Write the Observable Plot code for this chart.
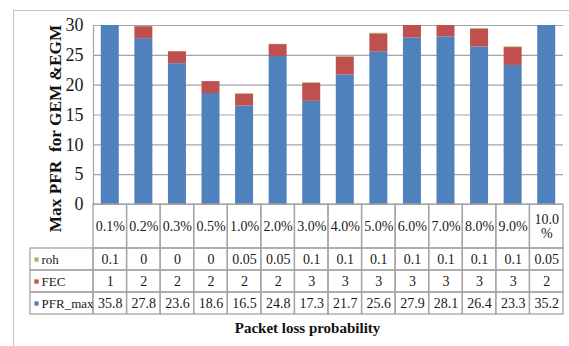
<!DOCTYPE html>
<html>
<head>
<meta charset="utf-8">
<script src="https://cdn.jsdelivr.net/npm/d3@7"></script>
<script src="https://cdn.jsdelivr.net/npm/@observablehq/plot@0.6"></script>
<style>
html, body { margin: 0; padding: 0; background: #fff; overflow: hidden; }
#wrap { position: relative; width: 569px; height: 346px; overflow: hidden; }
#wrap svg { position: absolute; left: 0; top: 0; }
#frame { position: absolute; left: 13px; top: 10px; width: 700px; height: 500px; border: 1px solid #c4c4c4; box-sizing: border-box; }
</style>
</head>
<body>
<div id="wrap"><div id="frame"></div></div>
<script>
// ---- data ----
const categories = ["0.1%", "0.2%", "0.3%", "0.5%", "1.0%", "2.0%", "3.0%", "4.0%", "5.0%", "6.0%", "7.0%", "8.0%", "9.0%", "10.0%"];
const pfrMax = [35.8, 27.8, 23.6, 18.6, 16.5, 24.8, 17.3, 21.7, 25.6, 27.9, 28.1, 26.4, 23.3, 35.2];
const fec = [1, 2, 2, 2, 2, 2, 3, 3, 3, 3, 3, 3, 3, 2];
const roh = [0.1, 0, 0, 0, 0.05, 0.05, 0.1, 0.1, 0.1, 0.1, 0.1, 0.1, 0.1, 0.05];
const seriesNames = ["PFR_max", "FEC", "roh"];
const seriesColors = ["#4F81BD", "#C0504D", "#9BBB59"];
const yTicks = [0, 5, 10, 15, 20, 25, 30];
const yLabel = "Max PFR  for GEM &EGM";
const xLabel = "Packet loss probability";

// ---- layout ----
const W = 569, H = 346;
const ML = 93, MR = 6, MT = 25, MB = 142;
const n = categories.length;
const step = (W - ML - MR) / n;
const barInset = (step - 18) / 2;
const legendCols = (ML - 30) / step;
const yMax = 30;
const plotH = H - MT - MB;
// y-label centre in pixels, converted through the scales' geometry
const yLabelX = (55 - ML) / step;
const yLabelY = yMax * (H - MB - 128) / plotH;
const font = "'Liberation Serif', 'Times New Roman', serif";
const textColor = "#1a1a1a";
const lineColor = "#a4a4a4";

const seriesValues = {PFR_max: pfrMax, FEC: fec, roh: roh};

// long table for stacked bars (bottom to top: PFR_max, FEC, roh)
const stacked = [];
categories.forEach((c, i) => {
  seriesNames.forEach((s) => stacked.push({index: i, category: c, series: s, value: seriesValues[s][i]}));
});

// ---- chart ----
const chart = Plot.plot({
  width: W,
  height: H,
  marginLeft: ML,
  marginRight: MR,
  marginTop: MT,
  marginBottom: MB,
  style: {fontFamily: font, fontSize: "18px", background: "transparent", color: textColor},
  x: {domain: [0, n], axis: null},
  y: {domain: [0, yMax], ticks: 6, tickSize: 0, tickPadding: 10, label: null},
  color: {domain: seriesNames, range: seriesColors},
  marks: [
    Plot.ruleY(yTicks, {stroke: lineColor, strokeWidth: 1.2}),
    Plot.ruleX([0], {stroke: lineColor, strokeWidth: 1.2}),
    Plot.rectY(stacked, {
      x1: "index",
      x2: (d) => d.index + 1,
      y: "value",
      fill: "series",
      insetLeft: barInset,
      insetRight: barInset,
      clip: true
    }),
    Plot.text([yLabel], {
      x: yLabelX,
      y: yLabelY,
      textAnchor: "middle",
      lineAnchor: "middle",
      rotate: -90,
      text: (d) => d,
      fontSize: 17.3,
      fontWeight: "bold",
      fill: "#111"
    })
  ]
});

// ---- data table ----
const fmtCat = (c) => (c.length > 4 ? c.slice(0, -1) + "\n%" : c);
const rowDefs = [
  {key: "header", span: 2},
  {key: "roh", span: 1},
  {key: "FEC", span: 1},
  {key: "PFR_max", span: 1}
];
let acc = 0;
rowDefs.forEach((r) => { r.y1 = acc; acc += r.span; r.y2 = acc; });

const cells = [];
categories.forEach((c, i) => {
  rowDefs.forEach((r) => {
    cells.push({
      x1: i, x2: i + 1, y1: r.y1, y2: r.y2,
      text: r.key === "header" ? fmtCat(c) : String(seriesValues[r.key][i])
    });
  });
});
const legendRows = rowDefs.filter((r) => r.key !== "header").map((r) => ({
  x1: -legendCols, x2: 0, y1: r.y1, y2: r.y2, label: r.key,
  color: seriesColors[seriesNames.indexOf(r.key)]
}));

const table = Plot.plot({
  width: W,
  height: H,
  marginLeft: ML,
  marginRight: MR,
  marginTop: H - MB,
  marginBottom: 32,
  style: {fontFamily: font, fontSize: "14px", background: "transparent", color: textColor},
  x: {domain: [0, n], axis: null},
  y: {domain: [0, acc], reverse: true, axis: null},
  marks: [
    Plot.rect(cells, {x1: "x1", x2: "x2", y1: "y1", y2: "y2", fill: "none", stroke: lineColor, strokeWidth: 1.3}),
    Plot.rect(legendRows, {x1: "x1", x2: "x2", y1: "y1", y2: "y2", fill: "none", stroke: lineColor, strokeWidth: 1.3}),
    Plot.text(cells, {
      x: (d) => (d.x1 + d.x2) / 2,
      y: (d) => (d.y1 + d.y2) / 2,
      text: "text",
      fontSize: 14,
      fill: textColor
    }),
    Plot.dot(legendRows, {
      x: "x1",
      y: (d) => (d.y1 + d.y2) / 2,
      dx: 6,
      symbol: "square",
      r: 2.4,
      fill: "color",
      stroke: null
    }),
    Plot.text(legendRows, {
      x: "x1",
      y: (d) => (d.y1 + d.y2) / 2,
      dx: 11,
      text: "label",
      textAnchor: "start",
      fontSize: 13,
      fill: textColor
    }),
    Plot.text([xLabel], {
      frameAnchor: "bottom",
      dx: -21,
      dy: 18,
      text: (d) => d,
      fontSize: 15,
      fontWeight: "bold",
      fill: "#111"
    })
  ]
});

const wrap = document.getElementById("wrap");
wrap.appendChild(chart);
wrap.appendChild(table);
</script>
</body>
</html>
